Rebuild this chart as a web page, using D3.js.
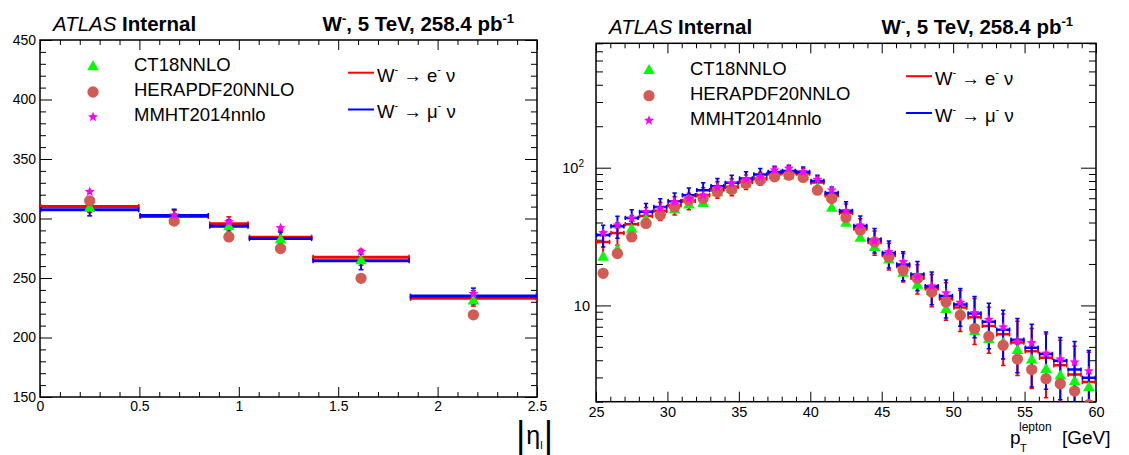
<!DOCTYPE html>
<html><head><meta charset="utf-8">
<script src="https://cdn.jsdelivr.net/npm/d3@7"></script>
<style>
body{margin:0;background:#fff;}
svg text{font-family:'Liberation Sans',Arial,Helvetica,sans-serif;fill:#000;}
</style></head><body>
<svg id="c" width="1129" height="455"></svg>
<script>
// ---------- data: left panel (|eta_l|) ----------
const etaEdges=[0,0.5,0.85,1.05,1.37,1.86,2.5];
const etaE=[310.1,301.7,295.5,284.3,267.4,232.9];
const etaEErr=[5.0,5.2,5.9,5.5,6.7,6.5];
const etaMu=[307.3,302.5,293.5,283.1,264.6,234.8];
const etaMuErr=[5.1,5.3,5.5,5.5,7.6,6.7];
const etaCT18=[308.4,298.6,293.0,281.7,264.3,230.6];
const etaHERA=[314.9,297.8,284.5,274.7,249.7,219.1];
const etaMMHT=[322.5,302.8,297.2,292.1,272.2,236.8];
const etaXTicks=[0,0.5,1,1.5,2,2.5];
const etaXTickLabels=["0","0.5","1","1.5","2","2.5"];
const etaYTicks=[150,200,250,300,350,400,450];

// ---------- data: right panel (pT lepton) ----------
const ptEdges=[25,26,27,28,29,30,31,32,33,34,35,36,37,38,39,40,41,42,43,44,45,46,47,48,49,50,51,52,53,54,55,56,57,58,59,60];
const ptE=[28.9,33.6,38.9,44.5,48.6,53.4,57.4,63.1,69.5,72.6,78.9,83.5,90.8,92.3,90.8,78.1,63.1,47.0,36.2,28.9,23.2,19.3,15.9,13.3,11.2,9.66,8.21,7.1,6.17,5.38,4.65,4.17,3.68,3.15,2.78];
const ptEErr=[5.5,6.3,6.1,6.8,7.3,8.0,7.8,8.4,9.6,10.0,9.5,9.0,8.9,9.1,7.8,7.7,6.6,7.5,6.4,5.8,5.1,4.5,3.8,3.5,3.4,3.2,3.0,2.6,2.5,2.28,2.16,2.03,1.9,1.9,1.8];
const ptMu=[32.4,37.6,43.2,47.8,51.9,57.1,63.1,68.7,73.4,77.6,83.5,89.3,93.2,94.8,93.2,80.2,65.6,48.6,37.8,30.1,24.0,19.8,16.8,13.8,11.7,10.15,8.73,7.6,6.66,5.63,4.93,4.44,3.96,3.42,2.98];
const ptMuErr=[5.8,6.8,6.4,7.1,7.7,8.5,8.2,8.9,10.1,10.6,9.9,9.4,9.3,9.5,8.1,8.0,6.9,7.9,6.7,6.1,5.3,4.7,4.0,3.7,3.6,3.1,2.9,2.75,2.58,2.39,2.37,1.98,1.89,2.04,1.72];
const ptCT18=[22.3,25.2,35.6,42.0,47.8,49.1,53.4,54.9,65.6,69.5,75.9,82.1,88.2,86.8,85.8,70.6,50.6,39.4,30.6,26.3,21.3,17.1,14.0,12.6,9.33,8.73,6.42,5.63,5.3,4.70,4.0,3.42,3.06,2.78,2.53];
const ptHERA=[17.1,23.8,31.4,39.4,45.4,51.9,58.1,59.7,66.7,69.5,76.8,81.2,85.8,88.2,84.9,68.7,59.7,43.5,35.2,28.9,22.5,18.0,15.7,12.5,10.6,8.49,6.79,5.96,5.13,4.08,3.42,2.94,2.70,2.39,1.9];
const ptMMHT=[33.6,38.2,42.8,47.8,50.6,56.5,59.7,63.1,71.8,76.8,82.1,85.8,95.9,98.7,93.2,82.1,68.7,48.6,38.2,29.4,24.5,20.7,16.1,13.8,12.3,10.5,8.82,7.9,6.96,5.49,5.34,4.48,4.08,3.87,3.34];
const ptXTicks=[25,30,35,40,45,50,55,60];
const ptYMajor=[10,100];
const ptYMinor=[2,3,4,5,6,7,8,9,20,30,40,50,60,70,80,90,200,300,400,500,600,700,800];

const pdfNames=["CT18NNLO","HERAPDF20NNLO","MMHT2014nnlo"];
const chanNames=[["W","-"," \u2192 e","-"," \u03BD"],["W","-"," \u2192 \u03BC","-"," \u03BD"]];

// ---------- styles ----------
const RED="#ff0000", BLUE="#0000ff", GREEN="#00ff00", CIRC="#d25c55", MAG="#ff00ff";

const svg=d3.select("#c");

// custom 5-point star symbol
const starSym={draw(ctx,size){
  const R=Math.sqrt(size)*0.62, r=R*0.45;
  for(let i=0;i<10;i++){
    const a=-Math.PI/2+i*Math.PI/5, rr=i%2?r:R;
    const px=rr*Math.cos(a), py=rr*Math.sin(a);
    if(i===0)ctx.moveTo(px,py);else ctx.lineTo(px,py);
  }
  ctx.closePath();
}};
const triPath=d3.symbol(d3.symbolTriangle,58)();
const circPath=d3.symbol(d3.symbolCircle,100)();
const starPath=d3.symbol(starSym,70)();

function makePanel(o){
  const g=svg.append("g");
  const clipId="clip"+o.id;
  svg.append("clipPath").attr("id",clipId).append("rect")
    .attr("x",o.x.range()[0]).attr("y",o.y.range()[1])
    .attr("width",o.x.range()[1]-o.x.range()[0]).attr("height",o.y.range()[0]-o.y.range()[1]);
  const [x0,x1]=o.x.range(), [yb,yt]=o.y.range();
  const ax=g.append("g").attr("class","axes");
  const styleAx=s=>{s.select(".domain").remove();s.selectAll("line").attr("stroke","#000").attr("stroke-width",1);s.selectAll("text").attr("font-size",o.tickFont).attr("font-family","'Liberation Sans',Arial,sans-serif").attr("fill","#000");};
  // x axes
  ax.append("g").attr("transform",`translate(0,${yb})`).call(d3.axisBottom(o.x).tickValues(o.xMinor).tickSize(-o.xMinLen).tickFormat("")).call(styleAx);
  ax.append("g").attr("transform",`translate(0,${yb})`).call(d3.axisBottom(o.x).tickValues(o.xMajor).tickSize(-o.xMajLen).tickPadding(o.xPad).tickFormat((d,i)=>o.xLabels[i])).call(styleAx);
  ax.append("g").attr("transform",`translate(0,${yt})`).call(d3.axisTop(o.x).tickValues(o.xMinor).tickSize(-o.xMinLen).tickFormat("")).call(styleAx);
  ax.append("g").attr("transform",`translate(0,${yt})`).call(d3.axisTop(o.x).tickValues(o.xMajor).tickSize(-o.xMajLen).tickFormat("")).call(styleAx);
  // y axes
  ax.append("g").attr("transform",`translate(${x0},0)`).call(d3.axisLeft(o.y).tickValues(o.yMinor).tickSize(-o.yMinLen).tickFormat("")).call(styleAx);
  const yl=ax.append("g").attr("transform",`translate(${x0},0)`).call(d3.axisLeft(o.y).tickValues(o.yMajor).tickSize(-o.yMajLen).tickPadding(o.yPad).tickFormat(o.yFormat)).call(styleAx);
  ax.append("g").attr("transform",`translate(${x1},0)`).call(d3.axisRight(o.y).tickValues(o.yMinor).tickSize(-o.yMinLen).tickFormat("")).call(styleAx);
  ax.append("g").attr("transform",`translate(${x1},0)`).call(d3.axisRight(o.y).tickValues(o.yMajor).tickSize(-o.yMajLen).tickFormat("")).call(styleAx);
  if(o.yPost) o.yPost(yl);
  // frame
  g.append("rect").attr("x",x0).attr("y",yt).attr("width",x1-x0).attr("height",yb-yt)
    .attr("fill","none").attr("stroke","#000").attr("stroke-width",1.5);

  const dg=g.append("g").attr("clip-path",`url(#${clipId})`);
  const yMinVal=o.y.domain()[0];
  function series(vals,errs,color){
    const d=vals.map((v,i)=>({v,e:errs[i],a:o.edges[i],b:o.edges[i+1]}));
    const bins=dg.append("g").selectAll("g").data(d).join("g").attr("stroke",color).attr("fill","none");
    const lo=p=>o.y(Math.max(p.v-p.e,yMinVal*0.5)), hi=p=>o.y(p.v+p.e);
    const xc=p=>(o.x(p.a)+o.x(p.b))/2;
    bins.append("line").attr("x1",xc).attr("x2",xc).attr("y1",lo).attr("y2",hi).attr("stroke-width",o.vlw);
    bins.append("line").attr("x1",p=>xc(p)-o.cap).attr("x2",p=>xc(p)+o.cap).attr("y1",hi).attr("y2",hi).attr("stroke-width",1.5);
    bins.append("line").attr("x1",p=>xc(p)-o.cap).attr("x2",p=>xc(p)+o.cap).attr("y1",lo).attr("y2",lo).attr("stroke-width",1.5);
    bins.append("line").attr("x1",p=>o.x(p.a)).attr("x2",p=>o.x(p.b)).attr("y1",p=>o.y(p.v)).attr("y2",p=>o.y(p.v)).attr("stroke-width",o.hlw);
    bins.append("line").attr("x1",p=>o.x(p.a)+0.75).attr("x2",p=>o.x(p.a)+0.75).attr("y1",p=>o.y(p.v)-o.cap).attr("y2",p=>o.y(p.v)+o.cap).attr("stroke-width",1.5);
    bins.append("line").attr("x1",p=>o.x(p.b)-0.75).attr("x2",p=>o.x(p.b)-0.75).attr("y1",p=>o.y(p.v)-o.cap).attr("y2",p=>o.y(p.v)+o.cap).attr("stroke-width",1.5);
  }
  series(o.e,o.eErr,RED);
  series(o.mu,o.muErr,BLUE);
  function markers(vals,path,color){
    dg.append("g").selectAll("path").data(vals).join("path")
      .attr("d",path).attr("fill",color)
      .attr("transform",(v,i)=>`translate(${(o.x(o.edges[i])+o.x(o.edges[i+1]))/2},${o.y(v)})`);
  }
  markers(o.ct,triPath,GREEN);
  markers(o.hera,circPath,CIRC);
  markers(o.mmht,starPath,MAG);

  // titles
  const t1=g.append("text").attr("x",o.titleX).attr("y",o.titleY).attr("font-size",20.5);
  t1.append("tspan").attr("font-style","italic").text("ATLAS");
  t1.append("tspan").attr("font-weight","bold").text(" Internal");
  const t2=g.append("text").attr("x",o.titleRX).attr("y",o.titleY).attr("font-size",20.5).attr("font-weight","bold").attr("text-anchor","end");
  t2.append("tspan").text("W");
  t2.append("tspan").attr("font-size",13).attr("dy",-8).text("-");
  t2.append("tspan").attr("dy",8).text(", 5 TeV, 258.4 pb");
  t2.append("tspan").attr("font-size",13).attr("dy",-8).text("-1");

  // legend 1 (PDFs)
  const lg=g.append("g");
  const lpaths=[triPath,circPath,starPath], lcols=[GREEN,CIRC,MAG];
  pdfNames.forEach((n,i)=>{
    lg.append("path").attr("d",lpaths[i]).attr("fill",lcols[i]).attr("transform",`translate(${o.legX},${o.legY[i]})`);
    lg.append("text").attr("x",o.legX+41).attr("y",o.legY[i]+o.legTxtDy).attr("font-size",18.5).text(n);
  });
  // legend 2 (channels)
  const ccols=[RED,BLUE];
  chanNames.forEach((parts,i)=>{
    lg.append("line").attr("x1",o.leg2X).attr("x2",o.leg2X+26).attr("y1",o.leg2Y[i]).attr("y2",o.leg2Y[i]).attr("stroke",ccols[i]).attr("stroke-width",2);
    const t=lg.append("text").attr("x",o.leg2X+29).attr("y",o.leg2Y[i]+8.8).attr("font-size",18.5);
    t.append("tspan").text(parts[0]);
    t.append("tspan").attr("font-size",11).attr("dy",-9).text(parts[1]);
    t.append("tspan").attr("dy",9).text(parts[2]);
    t.append("tspan").attr("font-size",11).attr("dy",-9).text(parts[3]);
    t.append("tspan").attr("dy",9).text(parts[4]);
  });
  return g;
}

// ---------- left panel ----------
const xL=d3.scaleLinear().domain([0,2.5]).range([40,537]);
const yL=d3.scaleLinear().domain([150,450]).range([397,40]);
const gL=makePanel({id:"L",x:xL,y:yL,edges:etaEdges,e:etaE,eErr:etaEErr,mu:etaMu,muErr:etaMuErr,ct:etaCT18,hera:etaHERA,mmht:etaMMHT,
  xMajor:etaXTicks,xLabels:etaXTickLabels,xMinor:d3.range(0,2.501,0.1).filter(v=>Math.abs(v*2-Math.round(v*2))>1e-6),
  yMajor:etaYTicks,yMinor:d3.range(150,451,10).filter(v=>v%50!==0),yFormat:d=>String(d),
  xMajLen:10,xMinLen:5,yMajLen:12,yMinLen:6,xPad:4,yPad:4,tickFont:14,
  hlw:3,vlw:2,cap:2.5,
  titleX:53,titleRX:514,titleY:30.5,legX:93,legY:[67,92,117],legTxtDy:3.5,leg2X:348,leg2Y:[72.7,109.5]});

// |eta_l| axis title (single text element)
const etaT=gL.append("text").attr("x",516).attr("y",447).attr("font-size",36);
etaT.append("tspan").text("|");
etaT.append("tspan").attr("font-size",25).attr("dx",1).attr("dy",-3).text("\u03B7");
etaT.append("tspan").attr("font-size",11).attr("dy",5).text("l");
etaT.append("tspan").attr("dx",1).attr("dy",-2).text("|");

// ---------- right panel ----------
const xR=d3.scaleLinear().domain([25,60]).range([596,1096]);
const yR=d3.scaleLog().domain([2,800]).range([401.7,43.3]);
const gR=makePanel({id:"R",x:xR,y:yR,edges:ptEdges,e:ptE,eErr:ptEErr,mu:ptMu,muErr:ptMuErr,ct:ptCT18,hera:ptHERA,mmht:ptMMHT,
  xMajor:ptXTicks,xLabels:ptXTicks.map(String),xMinor:d3.range(25,61,1).filter(v=>v%5!==0),
  yMajor:ptYMajor,yMinor:ptYMinor,yFormat:d=>"10",
  yPost:s=>{s.selectAll(".tick").filter(d=>d===100).select("text").attr("dx",-6).append("tspan").attr("font-size",10).attr("dy",-6).text("2");},
  xMajLen:10,xMinLen:5,yMajLen:15,yMinLen:7,xPad:5,yPad:6,tickFont:14.5,
  hlw:2.5,vlw:2,cap:2.2,
  titleX:609,titleRX:1073,titleY:33.5,legX:649,legY:[70.7,95.7,120.5],legTxtDy:4,leg2X:906,leg2Y:[76.2,113]});

// pT axis title
gR.append("text").attr("x",1010).attr("y",444).attr("font-size",19).text("p");
gR.append("text").attr("x",1020).attr("y",452).attr("font-size",11).text("T");
gR.append("text").attr("x",1019).attr("y",431).attr("font-size",12).text("lepton");
gR.append("text").attr("x",1062).attr("y",444).attr("font-size",19).text("[GeV]");
</script>
</body></html>
